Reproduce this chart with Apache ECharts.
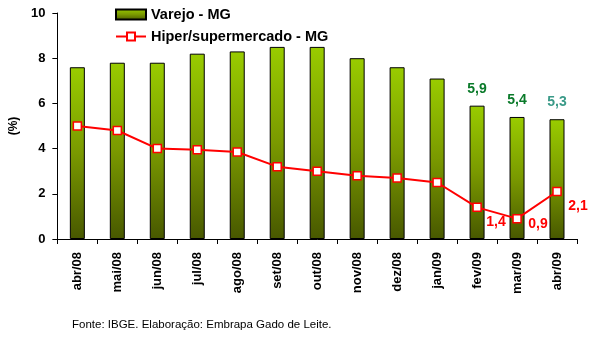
<!DOCTYPE html>
<html>
<head>
<meta charset="utf-8">
<script src="https://cdn.jsdelivr.net/npm/echarts@6/dist/echarts.min.js"></script>
<style>
html,body{margin:0;padding:0;background:#fff;}
#c{width:591px;height:339px;}
</style>
</head>
<body>
<div id="c"></div>
<script>
const categories = ['abr/08','mai/08','jun/08','jul/08','ago/08','set/08','out/08','nov/08','dez/08','jan/09','fev/09','mar/09','abr/09'];
const varejo = [7.6, 7.8, 7.8, 8.2, 8.3, 8.5, 8.5, 8.0, 7.6, 7.1, 5.9, 5.4, 5.3];
const hiper = [5.0, 4.8, 4.0, 3.95, 3.85, 3.2, 3.0, 2.8, 2.7, 2.5, 1.4, 0.9, 2.1];
const yTicks = [0, 2, 4, 6, 8, 10];
const varejoLabeled = [10, 11, 12];
const hiperLabeled = [10, 11, 12];

const FONT = '"Liberation Sans", Arial, sans-serif';
const chart = echarts.init(document.getElementById('c'), null, {renderer: 'canvas'});

const barGrad = new echarts.graphic.LinearGradient(0, 0, 0, 1, [
  {offset: 0, color: '#99cc00'},
  {offset: 0.5, color: '#7a9900'},
  {offset: 1, color: '#485800'}
]);

const greenLabelColors = {10: '#0a7a2a', 11: '#0a7a2a', 12: '#3a9a88'};
const redOffsets = {10: [19, 15], 11: [21, 5], 12: [21, 15]};

const barData = varejo.map((v, i) => {
  if (varejoLabeled.indexOf(i) >= 0) {
    return {value: v, label: {show: true, position: 'top', distance: 10,
      formatter: p => String(p.value).replace('.', ','),
      color: greenLabelColors[i], fontFamily: FONT, fontWeight: 'bold', fontSize: 14}};
  }
  return v;
});
const lineData = hiper.map((v, i) => {
  if (hiperLabeled.indexOf(i) >= 0) {
    return {value: v, label: {show: true, position: 'inside', offset: redOffsets[i],
      formatter: p => String(p.value).replace('.', ','),
      color: '#ff0000', fontFamily: FONT, fontWeight: 'bold', fontSize: 14}};
  }
  return v;
});

chart.setOption({
  animation: false,
  backgroundColor: '#ffffff',
  textStyle: {fontFamily: FONT},
  grid: {left: 55, right: 14, top: 13, bottom: 100, containLabel: false},
  legend: {
    orient: 'vertical', left: 110, top: 2, itemGap: 7,
    itemWidth: 30, itemHeight: 10,
    textStyle: {fontFamily: FONT, fontWeight: 'bold', fontSize: 14.5, color: '#000'},
    data: [
      {name: 'Varejo - MG', icon: 'rect'},
      {name: 'Hiper/supermercado - MG'}
    ]
  },
  xAxis: {
    type: 'category', data: categories, boundaryGap: true,
    axisLine: {lineStyle: {color: '#000', width: 1}},
    axisTick: {show: true, interval: 0, length: 5, lineStyle: {color: '#000'}},
    axisLabel: {interval: 0, rotate: 90, margin: 13, color: '#000',
      fontFamily: FONT, fontWeight: 'bold', fontSize: 13}
  },
  yAxis: {
    type: 'value', min: yTicks[0], max: yTicks[yTicks.length - 1], interval: 2,
    name: '(%)', nameLocation: 'middle', nameGap: 34, nameRotate: 90,
    nameTextStyle: {fontFamily: FONT, fontWeight: 'bold', fontSize: 12, color: '#000'},
    axisLine: {show: true, lineStyle: {color: '#000'}},
    axisTick: {show: true, length: 5, lineStyle: {color: '#000'}},
    splitLine: {show: false},
    axisLabel: {color: '#000', fontFamily: FONT, fontWeight: 'bold', fontSize: 13, margin: 12,
      formatter: v => yTicks.indexOf(v) >= 0 ? String(v) : ''}
  },
  series: [
    {
      name: 'Varejo - MG', type: 'bar', data: barData, barWidth: 15,
      itemStyle: {color: barGrad, borderColor: '#000', borderWidth: 1},
      z: 2
    },
    {
      name: 'Hiper/supermercado - MG', type: 'line', data: lineData,
      symbol: 'rect', symbolSize: 8, showAllSymbol: true,
      lineStyle: {color: '#ff0000', width: 2},
      itemStyle: {color: '#ffffff', borderColor: '#ff0000', borderWidth: 1.5},
      z: 3
    }
  ],
  graphic: [{
    type: 'text', left: 72, top: 319,
    style: {text: 'Fonte: IBGE. Elaboração: Embrapa Gado de Leite.',
      fontFamily: FONT, fontSize: 11.5, fill: '#000'}
  }]
});
</script>
</body>
</html>
